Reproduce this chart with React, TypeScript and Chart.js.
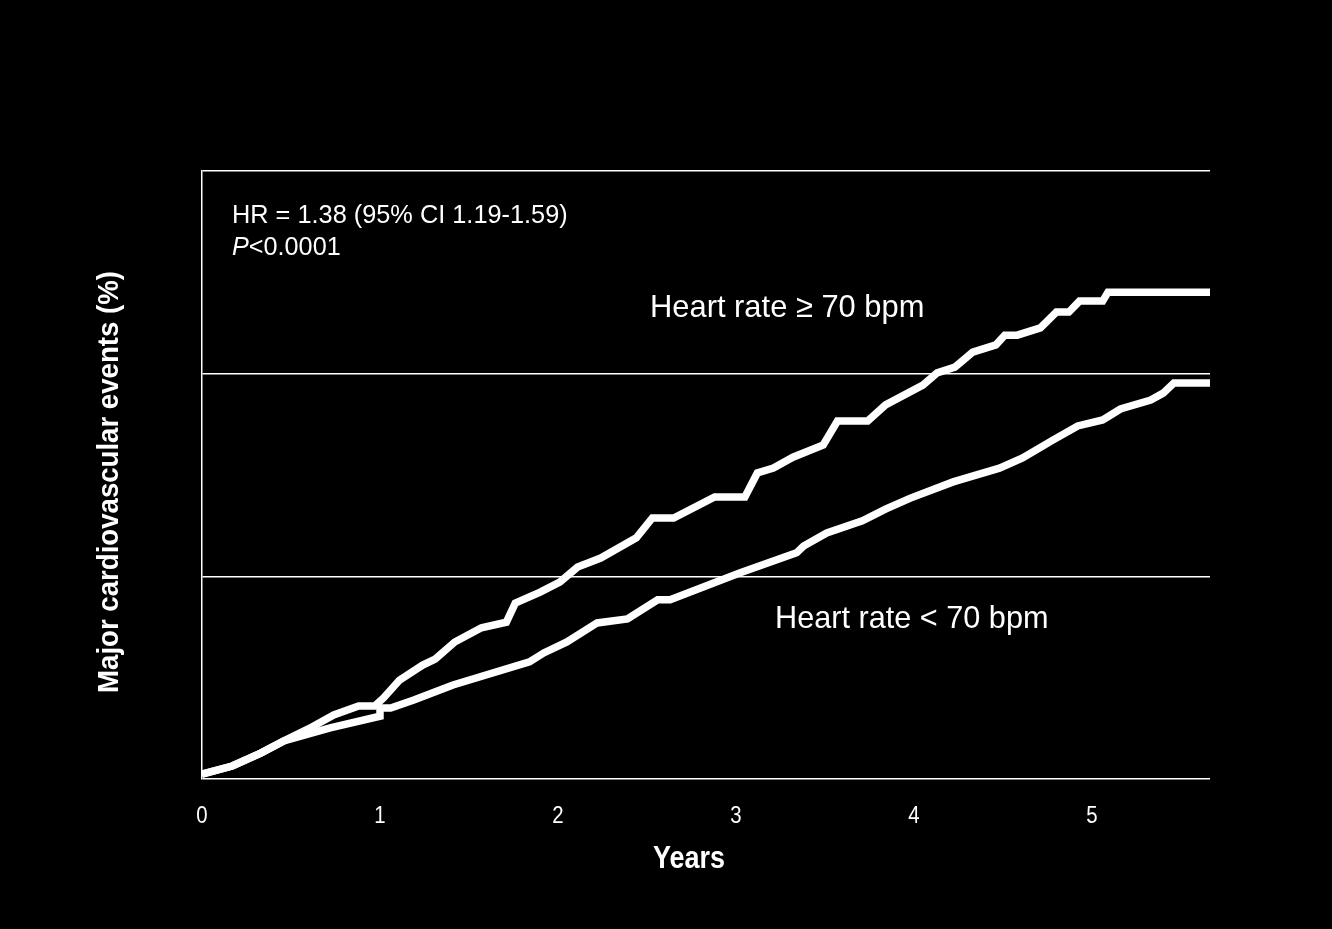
import { useEffect, useRef } from "react";
import { Chart, registerables } from "chart.js";

Chart.register(...registerables);

// ---- data ----
const X_TICKS = [0, 1, 2, 3, 4, 5];
const Y_GRID = [0, 5, 10, 15];
const X_MAX = 5.663;

const HIGH_LABEL = "Heart rate \u2265 70 bpm";
const LOW_LABEL = "Heart rate < 70 bpm";

const HIGH_YEARS = [0, 0.17, 0.33, 0.46, 0.6, 0.74, 0.88, 0.97, 1.02, 1.11, 1.24, 1.31, 1.42, 1.57, 1.71, 1.76, 1.9, 2.01, 2.11, 2.24, 2.44, 2.53, 2.65, 2.88, 3.05, 3.12, 3.21, 3.32, 3.49, 3.57, 3.74, 3.84, 4.05, 4.13, 4.23, 4.33, 4.46, 4.51, 4.58, 4.71, 4.8, 4.87, 4.93, 5.06, 5.09, 5.663];
const HIGH_EVENTS = [0.12, 0.32, 0.64, 0.94, 1.24, 1.58, 1.8, 1.8, 2.0, 2.44, 2.81, 2.96, 3.38, 3.73, 3.87, 4.34, 4.61, 4.86, 5.23, 5.45, 5.95, 6.44, 6.44, 6.96, 6.96, 7.55, 7.67, 7.94, 8.24, 8.83, 8.83, 9.23, 9.72, 10.02, 10.16, 10.53, 10.71, 10.95, 10.95, 11.13, 11.52, 11.52, 11.79, 11.79, 12.01, 12.01];

const LOW_YEARS = [0, 0.17, 0.33, 0.46, 0.72, 1.0, 1.0, 1.06, 1.19, 1.41, 1.84, 1.92, 2.05, 2.22, 2.39, 2.56, 2.63, 3.02, 3.34, 3.38, 3.51, 3.71, 3.84, 3.98, 4.22, 4.48, 4.61, 4.78, 4.92, 5.06, 5.16, 5.33, 5.4, 5.46, 5.663];
const LOW_EVENTS = [0.12, 0.32, 0.64, 0.94, 1.26, 1.55, 1.75, 1.75, 1.95, 2.32, 2.89, 3.11, 3.38, 3.85, 3.95, 4.42, 4.42, 5.08, 5.58, 5.75, 6.07, 6.37, 6.66, 6.93, 7.33, 7.67, 7.92, 8.36, 8.71, 8.86, 9.13, 9.35, 9.52, 9.77, 9.77];

const X_TITLE = "Years";
const Y_TITLE = "Major cardiovascular events (%)";
const HR_TEXT = "HR = 1.38 (95% CI 1.19-1.59)";
const P_TEXT = "<0.0001";

const FONT = '"Liberation Sans", Arial, sans-serif';

function drawText(ctx: any, text: string, x: number, y: number, font: string, sx: number, align: string = "left", rot: number = 0) {
  ctx.save();
  ctx.translate(x, y);
  if (rot) ctx.rotate(rot);
  ctx.scale(sx, 1);
  ctx.font = font;
  ctx.textAlign = align;
  ctx.textBaseline = "alphabetic";
  ctx.fillText(text, 0, 0);
  const w = ctx.measureText(text).width * sx;
  ctx.restore();
  return w;
}

const textPlugin = {
  id: "texts",
  afterDraw(chart: any) {
    const { ctx, chartArea } = chart;
    const { left, top, right, bottom } = chartArea;
    const xs = chart.scales.x;
    ctx.save();
    ctx.fillStyle = "#ffffff";
    // x tick labels (positions from the library's x scale)
    X_TICKS.forEach((v) => {
      drawText(ctx, String(v), xs.getPixelForValue(v), bottom + 44, `24px ${FONT}`, 0.85, "center");
    });
    // x title
    drawText(ctx, X_TITLE, (left + right) / 2 - 17, bottom + 89, `bold 31px ${FONT}`, 0.87, "center");
    // y title
    drawText(ctx, Y_TITLE, 118, (top + bottom) / 2 + 7, `bold 30px ${FONT}`, 0.92, "center", -Math.PI / 2);
    // HR annotation
    drawText(ctx, HR_TEXT, left + 30, top + 52, `26px ${FONT}`, 0.974);
    const pw = drawText(ctx, "P", left + 30, top + 84, `italic 26px ${FONT}`, 0.97);
    drawText(ctx, P_TEXT, left + 30 + pw, top + 84, `26px ${FONT}`, 0.97);
    // series labels
    drawText(ctx, HIGH_LABEL, 650, 317, `32px ${FONT}`, 0.965);
    drawText(ctx, LOW_LABEL, 775, 628, `32px ${FONT}`, 0.958);
    ctx.restore();
  },
};

export default function App() {
  const ref = useRef<HTMLCanvasElement>(null);
  useEffect(() => {
    document.body.style.margin = "0";
    document.body.style.background = "#000";
    const canvas = ref.current!;
    const chart = new Chart(canvas, {
      type: "line",
      data: {
        datasets: [
          {
            label: HIGH_LABEL,
            data: HIGH_YEARS.map((x, i) => ({ x, y: HIGH_EVENTS[i] })),
            borderColor: "#ffffff",
            borderWidth: 7.5,
            pointRadius: 0,
            tension: 0,
            fill: false,
          },
          {
            label: LOW_LABEL,
            data: LOW_YEARS.map((x, i) => ({ x, y: LOW_EVENTS[i] })),
            borderColor: "#ffffff",
            borderWidth: 7.5,
            pointRadius: 0,
            tension: 0,
            fill: false,
          },
        ],
      },
      options: {
        responsive: false,
        animation: false,
        layout: { padding: { left: 202, top: 171, right: 122, bottom: 150 } },
        plugins: { legend: { display: false }, tooltip: { enabled: false }, title: { display: false } },
        scales: {
          x: {
            type: "linear",
            min: 0,
            max: X_MAX,
            afterBuildTicks: (s: any) => { s.ticks = X_TICKS.map((v) => ({ value: v })); },
            grid: { display: false, drawTicks: false },
            border: { display: false },
            ticks: { display: false },
          },
          y: {
            type: "linear",
            min: 0,
            max: 15,
            afterFit: (s: any) => { s.width = 0; },
            afterBuildTicks: (s: any) => { s.ticks = Y_GRID.map((v) => ({ value: v })); },
            grid: { color: "#ffffff", lineWidth: 1.5, drawTicks: false },
            border: { display: true, color: "#ffffff", width: 1.5 },
            ticks: { display: false },
          },
        },
      },
      plugins: [textPlugin],
    });
    return () => chart.destroy();
  }, []);
  return (
    <div style={{ width: 1332, height: 929, background: "#000" }}>
      <canvas ref={ref} width={1332} height={929} style={{ display: "block", background: "#000" }} />
    </div>
  );
}
